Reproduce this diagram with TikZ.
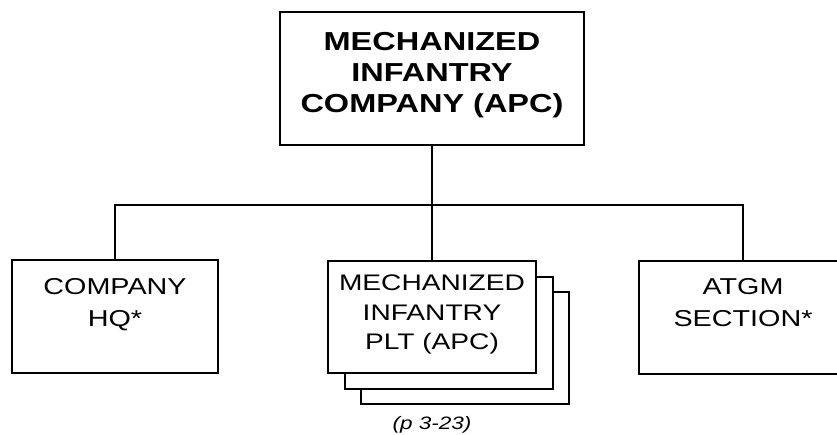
\documentclass[tikz,border=0pt]{standalone}
\usepackage{fontspec}
\setmainfont{Liberation Sans}[FakeStretch=1.25]
\usetikzlibrary{positioning}
\tikzset{
  unit/.style={draw,line width=2pt,fill=white,minimum width=208pt,minimum height=112pt,inner sep=0pt},
  unittext/.style={anchor=north,inner sep=0pt,align=center,font=\fontsize{23}{32}\selectfont}
}
\begin{document}
\begin{tikzpicture}[x=1pt,y=-1pt,line width=2pt]
  \useasboundingbox (0,0) rectangle (837,434);
  % top box
  \node[unit,minimum width=304pt,minimum height=133pt] (co) at (432,78.5) {};
  \node[unittext,below=20pt of co.north,font=\bfseries\fontsize{26}{31}\selectfont] (co-t) {MECHANIZED\\INFANTRY\\COMPANY (APC)};
  % subordinate units
  \node[unit,minimum width=206pt,minimum height=113pt] (hq) at (115,316.5) {};
  \node[unittext,below=18pt of hq.north] (hq-t) {COMPANY\\HQ*};
  \node[unit] (plt-c) at (465,348) {};
  \node[unit] (plt-b) at (448.5,333) {};
  \node[unit] (plt) at (432,317) {};
  \node[unittext,below=14pt of plt.north,font=\fontsize{22.5}{29.5}\selectfont] (plt-t) {MECHANIZED\\INFANTRY\\PLT (APC)};
  \node[unit,minimum height=113pt] (sec) at (743,317) {};
  \node[unittext,below=18pt of sec.north] (sec-t) {ATGM\\SECTION*};
  \node[inner sep=0pt,font=\itshape\fontsize{18}{20}\selectfont] (pg) at (432,425) {(p 3-23)};
  % connectors
  \coordinate (bus) at (432,205);
  \draw (co.south) -- (plt.north);
  \draw (hq.north) |- (bus) -| (sec.north);
\end{tikzpicture}
\end{document}
